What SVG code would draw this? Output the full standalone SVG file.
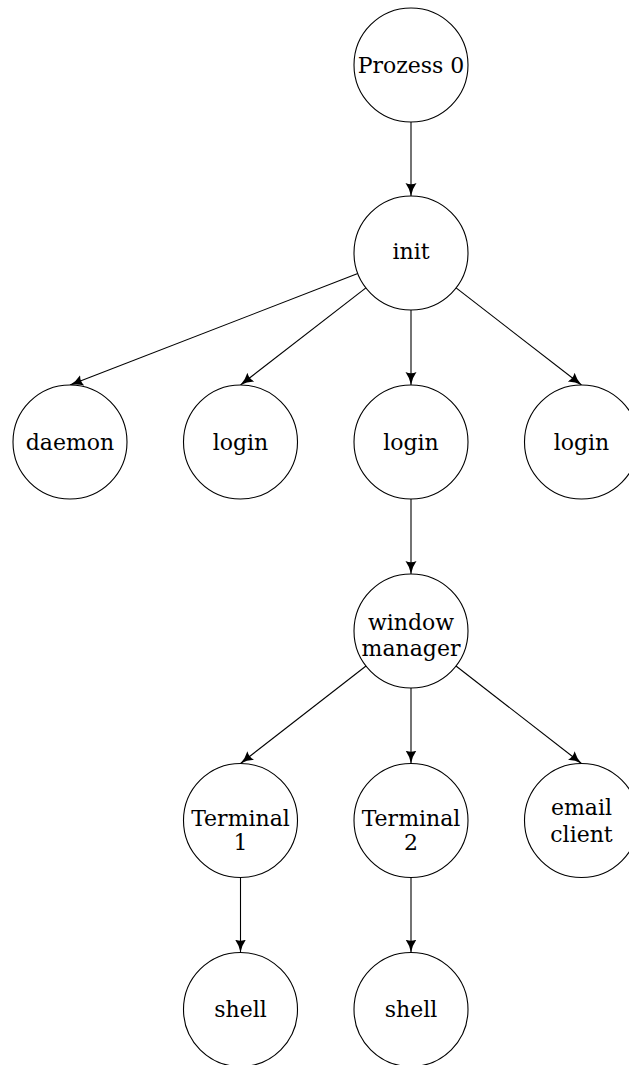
<svg xmlns="http://www.w3.org/2000/svg" width="629" height="1065" viewBox="0 0 629 1065">
<style>
.n{fill:#fff;stroke:#000;stroke-width:1.1}
text{font-family:'DejaVu Serif','Liberation Serif',serif;font-size:22px;text-anchor:middle;fill:#000}
.e{stroke:#000;stroke-width:1.1;fill:none;marker-end:url(#ah)}
</style>
<defs>
<marker id="ah" markerUnits="userSpaceOnUse" markerWidth="14" markerHeight="12" refX="13" refY="6" orient="auto" viewBox="0 0 14 12">
<path d="M0,0.5 Q6,4.8 13,6 Q6,7.2 0,11.5 Q2.5,6 0,0.5 z" fill="#000"/>
</marker>
</defs>
<g id="connectors">
<line class="e" x1="411" y1="122" x2="411" y2="196"/>
<line class="e" x1="357.8" y1="273.6" x2="70" y2="385"/>
<line class="e" x1="365.9" y1="287.9" x2="240.5" y2="385"/>
<line class="e" x1="411" y1="310" x2="411" y2="385"/>
<line class="e" x1="456.1" y1="287.9" x2="581.5" y2="385"/>
<line class="e" x1="411" y1="499" x2="411" y2="574"/>
<line class="e" x1="366" y1="666" x2="240.5" y2="763.5"/>
<line class="e" x1="411" y1="688" x2="411" y2="763.5"/>
<line class="e" x1="456" y1="666" x2="581.5" y2="763.5"/>
<line class="e" x1="240.5" y1="877.5" x2="240.5" y2="952.5"/>
<line class="e" x1="411" y1="877.5" x2="411" y2="952.5"/>
</g>
<g id="prozess0"><circle class="n" cx="411" cy="65" r="57"/><text x="411" y="73">Prozess 0</text></g>
<g id="init"><circle class="n" cx="411" cy="253" r="57"/><text x="411" y="259">init</text></g>
<g id="daemon"><circle class="n" cx="70" cy="442" r="57"/><text x="70" y="450">daemon</text></g>
<g id="login1"><circle class="n" cx="240.5" cy="442" r="57"/><text x="240.5" y="450">login</text></g>
<g id="login2"><circle class="n" cx="411" cy="442" r="57"/><text x="411" y="450">login</text></g>
<g id="login3"><circle class="n" cx="581.5" cy="442" r="57"/><text x="581.5" y="450">login</text></g>
<g id="windowmanager"><circle class="n" cx="411" cy="631" r="57"/><text x="411" y="630">window</text><text x="411" y="656">manager</text></g>
<g id="terminal1"><circle class="n" cx="240.5" cy="820.5" r="57"/><text x="240.5" y="826">Terminal</text><text x="240.5" y="850">1</text></g>
<g id="terminal2"><circle class="n" cx="411" cy="820.5" r="57"/><text x="411" y="826">Terminal</text><text x="411" y="850">2</text></g>
<g id="emailclient"><circle class="n" cx="581.5" cy="820.5" r="57"/><text x="581.5" y="815">email</text><text x="581.5" y="842">client</text></g>
<g id="shell1"><circle class="n" cx="240.5" cy="1009.5" r="57"/><text x="240.5" y="1017">shell</text></g>
<g id="shell2"><circle class="n" cx="411" cy="1009.5" r="57"/><text x="411" y="1017">shell</text></g>
</svg>
